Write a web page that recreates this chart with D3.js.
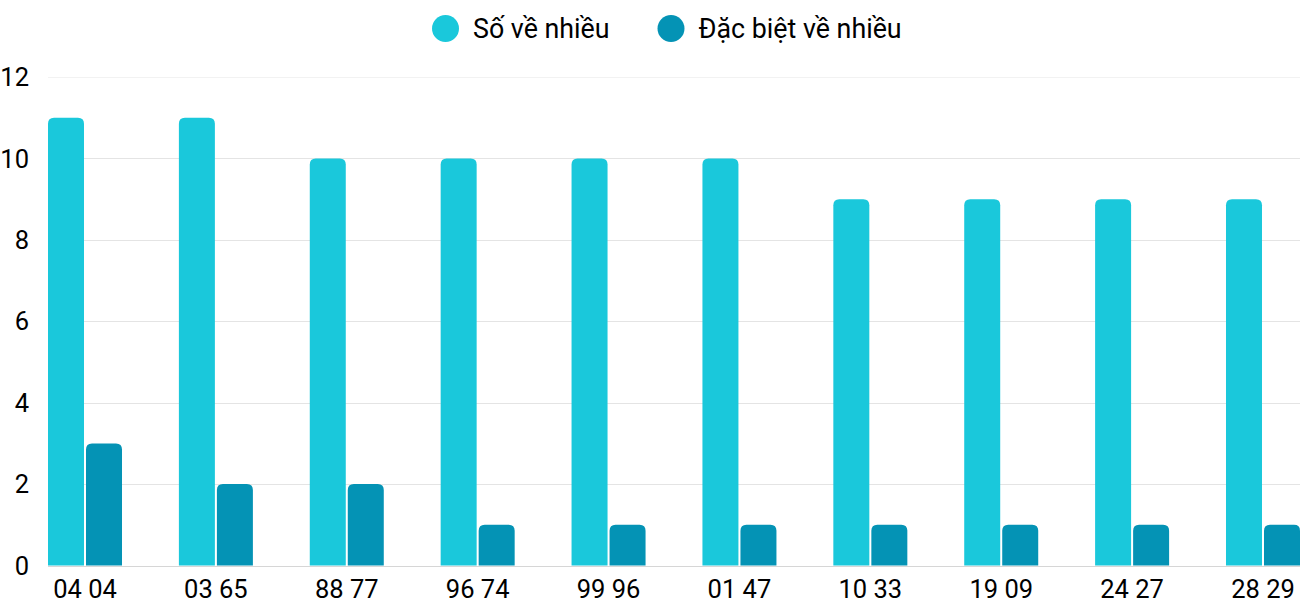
<!DOCTYPE html>
<html>
<head>
<meta charset="utf-8">
<script src="https://cdn.jsdelivr.net/npm/d3@7"></script>
<style>
  body { margin: 0; background: #fff; }
  text { font-family: Roboto, "Noto Sans", sans-serif; }
</style>
</head>
<body>
<div id="chart"></div>
<script>
var categories = ["04 04", "03 65", "88 77", "96 74", "99 96", "01 47", "10 33", "19 09", "24 27", "28 29"];
var seriesNames = ["Số về nhiều", "Đặc biệt về nhiều"];
var soVeNhieu = [11, 11, 10, 10, 10, 10, 9, 9, 9, 9];
var dacBietVeNhieu = [3, 2, 2, 1, 1, 1, 1, 1, 1, 1];
var yTicks = [0, 2, 4, 6, 8, 10, 12];

var colors = ["#1ac8db", "#0493b5"];
var width = 1300, height = 600;

var svg = d3.select("#chart").append("svg")
    .attr("width", width)
    .attr("height", height);

var x0 = d3.scaleBand()
    .domain(categories)
    .range([48, 1300])
    .paddingInner(0.4346)
    .paddingOuter(0);

var x1 = d3.scaleBand()
    .domain([0, 1])
    .range([0, x0.bandwidth()])
    .paddingInner(0.053);

var y = d3.scaleLinear()
    .domain([0, 12])
    .range([565.5, 77]);

// grid lines
svg.append("g").selectAll("line")
    .data(yTicks)
    .enter().append("line")
    .attr("x1", 48)
    .attr("x2", 1300)
    .attr("y1", function(d) { return Math.round(y(d)) + 0.5; })
    .attr("y2", function(d) { return Math.round(y(d)) + 0.5; })
    .attr("stroke", function(d) { return d == 0 ? "#d6d6d6" : (d == 12 ? "#f2f2f2" : "#e4e4e4"); })
    .attr("stroke-width", 1);

// y tick labels
svg.append("g").selectAll("text")
    .data(yTicks)
    .enter().append("text")
    .attr("x", 29)
    .attr("y", function(d) { return y(d); })
    .attr("dy", "0.36em")
    .attr("text-anchor", "end")
    .attr("font-size", 25.5)
    .attr("fill", "#000")
    .text(function(d) { return d; });

// bar with rounded top corners
var topRounded = function(x, yTop, w, yBase, r) {
  r = Math.min(r, (yBase - yTop), w / 2);
  return "M" + x + "," + yBase +
    "V" + (yTop + r) +
    "Q" + x + "," + yTop + " " + (x + r) + "," + yTop +
    "H" + (x + w - r) +
    "Q" + (x + w) + "," + yTop + " " + (x + w) + "," + (yTop + r) +
    "V" + yBase + "Z";
};

var rows = categories.map(function(c, i) {
  return { cat: c, values: [soVeNhieu[i], dacBietVeNhieu[i]] };
});

var groups = svg.append("g").selectAll("g")
    .data(rows)
    .enter().append("g")
    .attr("transform", function(d) { return "translate(" + x0(d.cat) + ",0)"; });

groups.selectAll("path")
    .data(function(d) { return d.values.map(function(v, k) { return { k: k, v: v }; }); })
    .enter().append("path")
    .attr("fill", function(d) { return colors[d.k]; })
    .attr("d", function(d) {
      return topRounded(x1(d.k), y(d.v), x1.bandwidth(), y(0), 6);
    });

// x labels
svg.append("g").selectAll("text")
    .data(categories)
    .enter().append("text")
    .attr("x", function(d) { return x0(d) + x0.bandwidth() / 2; })
    .attr("y", 598)
    .attr("text-anchor", "middle")
    .attr("font-size", 25.5)
    .attr("fill", "#000")
    .text(function(d) { return d; });

// legend
var legendItems = [
  { name: seriesNames[0], cx: 445.5, color: colors[0] },
  { name: seriesNames[1], cx: 671, color: colors[1] }
];
var legend = svg.append("g").selectAll("g")
    .data(legendItems)
    .enter().append("g");
legend.append("circle")
    .attr("cx", function(d) { return d.cx; })
    .attr("cy", 28.5)
    .attr("r", 13.5)
    .attr("fill", function(d) { return d.color; });
legend.append("text")
    .attr("x", function(d) { return d.cx + 27.5; })
    .attr("y", 28.5)
    .attr("dy", "0.36em")
    .attr("font-size", 26.8)
    .attr("fill", "#000")
    .text(function(d) { return d.name; });
</script>
</body>
</html>
